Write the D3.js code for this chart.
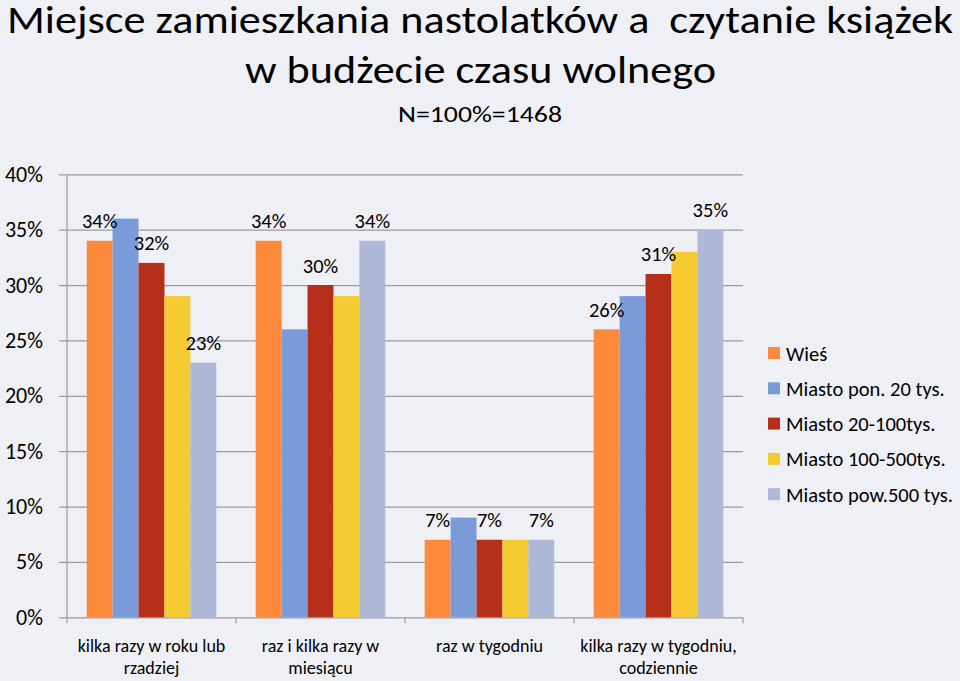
<!DOCTYPE html>
<html>
<head>
<meta charset="utf-8">
<script src="https://cdn.jsdelivr.net/npm/d3@7"></script>
<style>
  html, body { margin: 0; padding: 0; background: #eff0f6; }
  svg { display: block; }
  text { font-family: Carlito, Lato, "Open Sans", sans-serif; font-weight: 300; fill: #000; }
</style>
</head>
<body>
<svg id="chart" width="960" height="681"></svg>
<script>
// ---- data ----
const titleLines = ["Miejsce zamieszkania nastolatków a  czytanie książek", "w budżecie czasu wolnego"];
const subtitle = "N=100%=1468";
const categories = ["kilka razy w roku lub rzadziej", "raz i kilka razy w miesiącu", "raz w tygodniu", "kilka razy w tygodniu, codziennie"];
const categoryLines = [["kilka razy w roku lub", "rzadziej"], ["raz i kilka razy w", "miesiącu"], ["raz w tygodniu"], ["kilka razy w tygodniu,", "codziennie"]];
const series = ["Wieś", "Miasto pon. 20 tys.", "Miasto 20-100tys.", "Miasto 100-500tys.", "Miasto pow.500 tys."];
const colors = ["#fd8a3b", "#7a9bd8", "#b52f1a", "#f5cb31", "#adb9d7"];
const wies = [34, 34, 7, 26];
const miastoPon20 = [36, 26, 9, 29];
const miasto20_100 = [32, 30, 7, 31];
const miasto100_500 = [29, 29, 7, 33];
const miastoPow500 = [23, 34, 7, 35];
const values = [wies, miastoPon20, miasto20_100, miasto100_500, miastoPow500];
const labelledSeries = [true, false, true, false, true];
const yTicks = [0, 5, 10, 15, 20, 25, 30, 35, 40];

// ---- layout ----
const svg = d3.select("#chart");
const plotLeft = 67, plotRight = 743, plotTop = 174.3, plotBottom = 617.3, gridLeft = 59;

const x = d3.scaleBand().domain(categories).range([plotLeft, plotRight]).paddingInner(0).paddingOuter(0);
const xs = d3.scaleBand().domain(series).range([0, x.bandwidth()]).paddingInner(0).paddingOuter(0.76);
const y = d3.scaleLinear().domain([0, 40]).range([plotBottom, plotTop]);

// titles
const tg = svg.append("g");
tg.append("text").attr("x", 480).attr("y", 33).attr("text-anchor", "middle")
  .style("font-size", "38px").style("white-space", "pre")
  .attr("textLength", 946).attr("lengthAdjust", "spacingAndGlyphs").text(titleLines[0]);
tg.append("text").attr("x", 480.5).attr("y", 83).attr("text-anchor", "middle")
  .style("font-size", "39px")
  .attr("textLength", 471).attr("lengthAdjust", "spacingAndGlyphs").text(titleLines[1]);
tg.append("text").attr("x", 480).attr("y", 121.5).attr("text-anchor", "middle")
  .style("font-size", "22px")
  .attr("textLength", 164).attr("lengthAdjust", "spacingAndGlyphs").text(subtitle);

// y axis with gridlines
const yAxis = svg.append("g").attr("transform", `translate(${plotRight},0)`)
  .call(d3.axisLeft(y).tickValues(yTicks).tickSize(plotRight - gridLeft).tickPadding(16).tickFormat(d => d + "%"));
yAxis.select(".domain").remove();
yAxis.selectAll(".tick line").attr("stroke", "#9b9b9b").attr("stroke-width", 1.2);
yAxis.selectAll(".tick text").style("font-size", "22px").attr("fill", "#000")
  .style("font-family", "Carlito, Lato, sans-serif").style("font-weight", 300);

// vertical axis line
svg.append("line").attr("x1", plotLeft).attr("x2", plotLeft).attr("y1", y(40)).attr("y2", y(0))
  .attr("stroke", "#9b9b9b").attr("stroke-width", 1.2);

// category boundary ticks
const bounds = categories.map(c => x(c)).concat([x(categories[categories.length - 1]) + x.bandwidth()]);
svg.append("g").selectAll("line").data(bounds).join("line")
  .attr("x1", d => d).attr("x2", d => d).attr("y1", y(0)).attr("y2", y(0) + 6)
  .attr("stroke", "#9b9b9b").attr("stroke-width", 1.2);

// bars
const barsG = svg.append("g");
series.forEach((s, si) => {
  barsG.append("g").selectAll("rect").data(categories).join("rect")
    .attr("x", c => x(c) + xs(s))
    .attr("width", xs.bandwidth())
    .attr("y", (c, ci) => y(values[si][ci]))
    .attr("height", (c, ci) => y(0) - y(values[si][ci]))
    .attr("fill", colors[si]);
});

// data labels
series.forEach((s, si) => {
  if (!labelledSeries[si]) return;
  svg.append("g").selectAll("text").data(categories).join("text")
    .attr("x", c => x(c) + xs(s) + xs.bandwidth() / 2)
    .attr("y", (c, ci) => y(values[si][ci]) - 12.5)
    .attr("text-anchor", "middle")
    .style("font-size", "20.5px")
    .text((c, ci) => values[si][ci] + "%");
});

// category labels
const cg = svg.append("g");
categories.forEach((c, ci) => {
  const t = cg.append("text").attr("x", x(c) + x.bandwidth() / 2).attr("y", 652)
    .attr("text-anchor", "middle").style("font-size", "18px");
  categoryLines[ci].forEach((ln, li) => {
    t.append("tspan").attr("x", x(c) + x.bandwidth() / 2).attr("dy", li === 0 ? 0 : 22).text(ln);
  });
});

// legend
const lg = svg.append("g");
series.forEach((s, si) => {
  const cy = 353 + si * 35.3;
  lg.append("rect").attr("x", 768).attr("y", cy - 6).attr("width", 12).attr("height", 12).attr("fill", colors[si]);
  lg.append("text").attr("x", 786).attr("y", cy + 7.5).style("font-size", "20.5px").text(s);
});
</script>
</body>
</html>
